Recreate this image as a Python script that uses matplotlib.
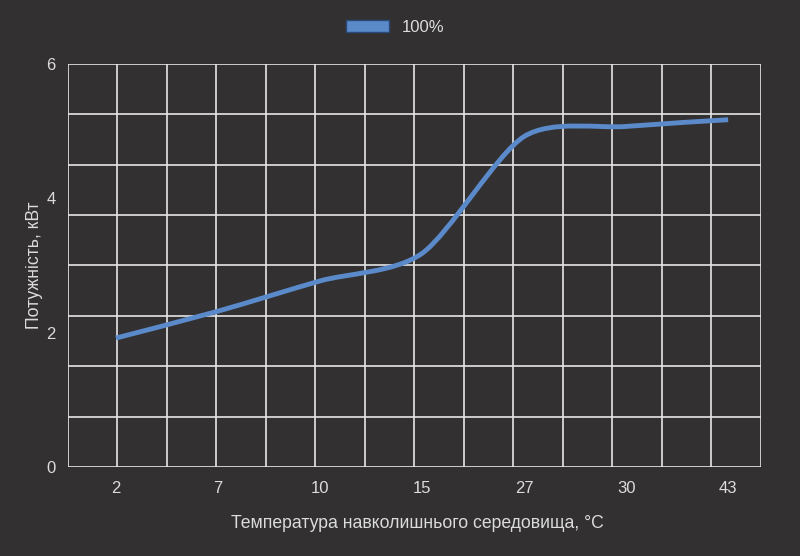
import matplotlib
matplotlib.use("Agg")
import matplotlib.pyplot as plt
from matplotlib.path import Path
from matplotlib.patches import PathPatch, Patch
import numpy as np

# ---- data ----
categories = ["2", "7", "10", "15", "27", "30", "43"]
power_100 = [1.92, 2.32, 2.77, 3.18, 4.92, 5.07, 5.17]
series_name = "100%"
x_label = "Температура навколишнього середовища, °C"
y_label = "Потужність, кВт"
y_ticks = [0, 2, 4, 6]

BG = "#323030"
GRID = "#e6e6e6"
LINE = "#5b8acb"
TXT = "#dcdcdc"

plt.rcParams["font.family"] = ["Liberation Sans", "DejaVu Sans"]

fig = plt.figure(figsize=(8, 5.56), dpi=100, facecolor=BG)
ax = fig.add_axes([0.085, 0.160, 0.866, 0.725])
ax.set_facecolor(BG)

xs = np.arange(len(categories), dtype=float)
ys = np.array(power_100, dtype=float)

# smooth path (cardinal spline -> cubic Bezier) through the data points
k = 0.8
verts = [(xs[0], ys[0])]
codes = [Path.MOVETO]
n = len(xs)
for i in range(n - 1):
    p0 = np.array([xs[max(i - 1, 0)], ys[max(i - 1, 0)]])
    p1 = np.array([xs[i], ys[i]])
    p2 = np.array([xs[i + 1], ys[i + 1]])
    p3 = np.array([xs[min(i + 2, n - 1)], ys[min(i + 2, n - 1)]])
    c1 = p1 + (p2 - p0) * k / 6.0
    c2 = p2 - (p3 - p1) * k / 6.0
    verts += [tuple(c1), tuple(c2), tuple(p2)]
    codes += [Path.CURVE4] * 3
patch = PathPatch(Path(verts, codes), facecolor="none", edgecolor=LINE,
                  lw=3.5, capstyle="butt", joinstyle="round", zorder=5)
ax.add_patch(patch)

ax.set_xlim(-0.47, 6.32)
ax.set_ylim(0, 6)

# grid lines (independent of tick labels)
for f in np.linspace(0, 1, 15):
    ax.plot([f, f], [0, 1], transform=ax.transAxes, color=GRID, lw=1.2, zorder=1)
for f in np.linspace(0, 1, 9):
    ax.plot([0, 1], [f, f], transform=ax.transAxes, color=GRID, lw=1.2, zorder=1)

for s in ax.spines.values():
    s.set_visible(False)

ax.set_xticks(xs)
ax.set_xticklabels(categories)
ax.set_yticks(y_ticks)
ax.set_yticklabels([str(t) for t in y_ticks])
ax.tick_params(axis="both", length=0, colors=TXT, labelsize=12)
ax.tick_params(axis="x", pad=10)
ax.tick_params(axis="y", pad=9)

ax.set_xlabel(x_label, color=TXT, fontsize=12.7, va="center")
ax.xaxis.set_label_coords(0.505, -0.139)
ax.set_ylabel(y_label, color=TXT, fontsize=12.7, va="center")
ax.yaxis.set_label_coords(-0.048, 0.5)

handle = Patch(facecolor=LINE, edgecolor="#2a4a78", lw=1.0, label=series_name)
leg = fig.legend(handles=[handle], loc="center", bbox_to_anchor=(0.494, 0.951),
                 frameon=False, fontsize=12, handlelength=2.6, handleheight=0.8,
                 handletextpad=0.8, labelcolor=TXT)

fig.savefig("out.png", dpi=100, facecolor=BG)
